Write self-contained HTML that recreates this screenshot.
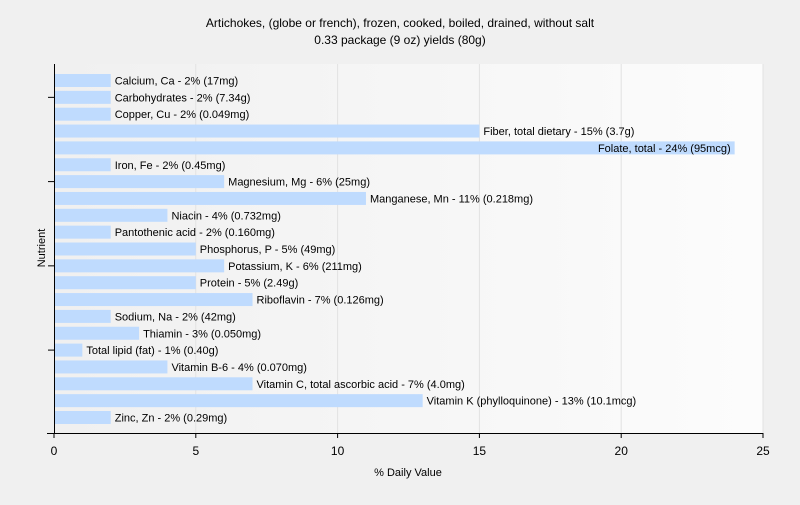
<!DOCTYPE html>
<html><head><meta charset="utf-8"><style>
body{margin:0;background:#f0f0f0;font-family:"Liberation Sans",sans-serif;}
svg text{font-family:"Liberation Sans",sans-serif;}
</style></head><body>
<svg width="800" height="500" xmlns="http://www.w3.org/2000/svg">
<defs><linearGradient id="bg" x1="0" x2="1" y1="0" y2="0"><stop offset="0" stop-color="#f0f0f0"/><stop offset="1" stop-color="#fcfcfc"/></linearGradient></defs>
<rect x="0" y="0" width="800" height="500" fill="#f0f0f0"/>
<rect x="54" y="64" width="709" height="369" fill="url(#bg)"/>
<text x="400" y="27" text-anchor="middle" font-size="12">Artichokes, (globe or french), frozen, cooked, boiled, drained, without salt</text>
<text x="400" y="44" text-anchor="middle" font-size="12">0.33 package (9 oz) yields (80g)</text>
<g id="grid"></g><g id="bars"></g><g id="axes"></g>
<text x="408" y="476" text-anchor="middle" font-size="11">% Daily Value</text>
<text x="45" y="248" text-anchor="middle" font-size="11" transform="rotate(-90 45 248)">Nutrient</text>
</svg>
<script>
const labels=["Calcium, Ca - 2% (17mg)","Carbohydrates - 2% (7.34g)","Copper, Cu - 2% (0.049mg)","Fiber, total dietary - 15% (3.7g)","Folate, total - 24% (95mcg)","Iron, Fe - 2% (0.45mg)","Magnesium, Mg - 6% (25mg)","Manganese, Mn - 11% (0.218mg)","Niacin - 4% (0.732mg)","Pantothenic acid - 2% (0.160mg)","Phosphorus, P - 5% (49mg)","Potassium, K - 6% (211mg)","Protein - 5% (2.49g)","Riboflavin - 7% (0.126mg)","Sodium, Na - 2% (42mg)","Thiamin - 3% (0.050mg)","Total lipid (fat) - 1% (0.40g)","Vitamin B-6 - 4% (0.070mg)","Vitamin C, total ascorbic acid - 7% (4.0mg)","Vitamin K (phylloquinone) - 13% (10.1mcg)","Zinc, Zn - 2% (0.29mg)"];
const values=[2,2,2,15,24,2,6,11,4,2,5,6,5,7,2,3,1,4,7,13,2];
const xTicks=[0,5,10,15,20,25];
const NS="http://www.w3.org/2000/svg";
const x0=54,x1=763,xMax=25,yTop=74,yBot=411;
const n=values.length;const pitch=(yBot-yTop)/(n-1);
const X=v=>x0+v/xMax*(x1-x0);
const Y=i=>yTop+i*pitch;
function mk(t,a,p){const e=document.createElementNS(NS,t);for(const k in a)e.setAttribute(k,a[k]);p.appendChild(e);return e;}
const grid=document.getElementById('grid'),bars=document.getElementById('bars'),axes=document.getElementById('axes');
xTicks.forEach(t=>{
 if(t>0){const g=mk('line',{x1:X(t),x2:X(t),y1:64,y2:433,stroke:'#e2e2e2'},grid);
 
 }
 const tk=mk('line',{x1:X(t),x2:X(t),y1:433,y2:438,stroke:'#000'},axes);
 
 
 const tl=mk('text',{x:X(t),y:455,'text-anchor':'middle','font-size':12},axes);tl.textContent=t;
 
 
});
values.forEach((v,i)=>{
 const r=mk('rect',{x:X(0),y:Y(i),width:X(v)-X(0),height:13,fill:'#bfdbfe'},bars);
 
 
 const t=mk('text',{x:X(v)+4,y:Y(i)+10.5,'font-size':11},bars);t.textContent=labels[i];
 
 
 const w=t.getComputedTextLength();
 if(X(v)+4+w>795){t.setAttribute('x',X(v)-4);t.setAttribute('text-anchor','end');}
});
[1,6,11,16].forEach(i=>{const l=mk('line',{x1:48,x2:54,y1:Y(i)+6.5,y2:Y(i)+6.5,stroke:'#000'},axes);
 
 });
const ya=mk('line',{x1:54.5,x2:54.5,y1:64,y2:434,stroke:'#000'},axes);


const xa=mk('line',{x1:47,x2:763,y1:433.5,y2:433.5,stroke:'#000'},axes);


</script>
</body></html>
